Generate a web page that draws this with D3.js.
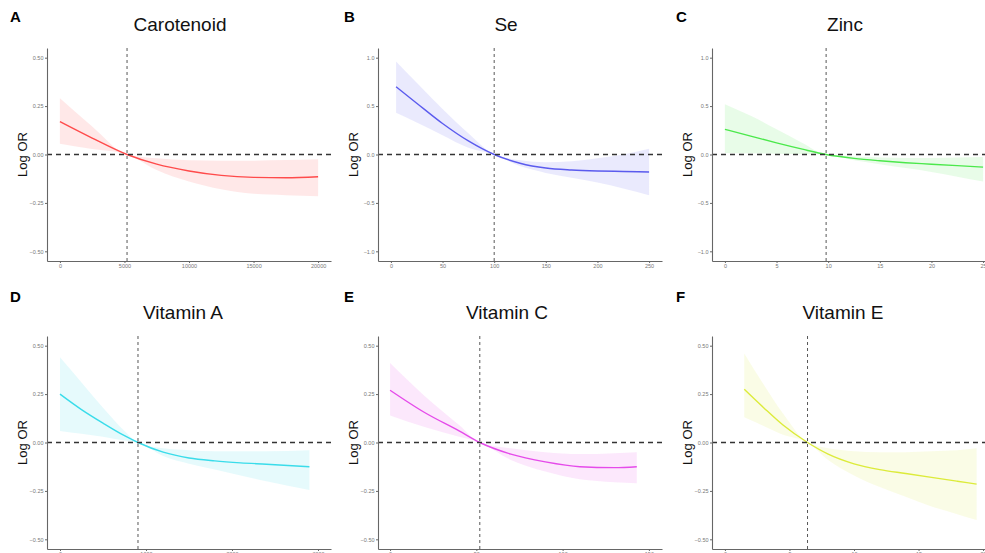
<!DOCTYPE html>
<html>
<head>
<meta charset="utf-8">
<script src="https://cdn.jsdelivr.net/npm/d3@7"></script>
<style>
  body { margin: 0; background: #fff; }
  svg { display: block; font-family: "Liberation Sans", Arial, sans-serif; }
  .tick text { fill: #777; font-size: 5.5px; }
  .tick line, .domain { stroke: #666; }
</style>
</head>
<body>
<div id="chart"></div>
<script>
// ---- data ----
// Carotenoid
const caroX   = [0, 2500, 5200, 7500, 10000, 12500, 15000, 17500, 20000];
const caroFit = [0.17, 0.085, 0, -0.05, -0.085, -0.108, -0.118, -0.12, -0.115];
const caroHi  = [0.29, 0.145, 0, -0.02, -0.03, -0.032, -0.032, -0.029, -0.025];
const caroLo  = [0.055, 0.028, 0, -0.08, -0.14, -0.18, -0.203, -0.21, -0.215];
const caroTicksX = [0, 5000, 10000, 15000, 20000];

// Se
const seX   = [5, 25, 50, 75, 100, 125, 150, 175, 200, 225, 250];
const seFit = [0.70, 0.53, 0.32, 0.14, 0, -0.09, -0.14, -0.16, -0.17, -0.175, -0.18];
const seHi  = [0.96, 0.74, 0.47, 0.22, 0, -0.06, -0.08, -0.07, -0.04, 0.0, 0.06];
const seLo  = [0.43, 0.33, 0.20, 0.07, 0, -0.12, -0.19, -0.24, -0.29, -0.35, -0.42];
const seTicksX = [0, 50, 100, 150, 200, 250];

// Zinc
const znX   = [0, 2.5, 5, 7.5, 9.8, 12.5, 15, 17.5, 20, 22.5, 25];
const znFit = [0.26, 0.19, 0.12, 0.055, 0, -0.04, -0.065, -0.085, -0.10, -0.115, -0.13];
const znHi  = [0.52, 0.40, 0.26, 0.12, 0, -0.02, -0.03, -0.035, -0.035, -0.03, -0.025];
const znLo  = [0.015, 0.012, 0.008, 0.004, 0, -0.06, -0.10, -0.14, -0.18, -0.23, -0.28];
const znTicksX = [0, 5, 10, 15, 20, 25];

// Vitamin A
const vaX   = [0, 250, 500, 750, 907, 1200, 1500, 1800, 2100, 2400, 2900];
const vaFit = [0.25, 0.17, 0.10, 0.035, 0, -0.05, -0.08, -0.095, -0.105, -0.112, -0.125];
const vaHi  = [0.44, 0.31, 0.18, 0.06, 0, -0.03, -0.04, -0.045, -0.045, -0.045, -0.04];
const vaLo  = [0.06, 0.045, 0.03, 0.01, 0, -0.07, -0.11, -0.14, -0.17, -0.20, -0.245];
const vaTicksX = [0, 1000, 2000, 3000];

// Vitamin C
const vcX   = [0, 20, 40, 52, 70, 90, 110, 130, 143];
const vcFit = [0.27, 0.155, 0.06, 0, -0.06, -0.10, -0.125, -0.13, -0.125];
const vcHi  = [0.41, 0.24, 0.09, 0, -0.03, -0.05, -0.06, -0.055, -0.05];
const vcLo  = [0.14, 0.08, 0.03, 0, -0.09, -0.15, -0.19, -0.205, -0.21];
const vcTicksX = [0, 50, 100, 150];

// Vitamin E
const veX   = [1.5, 3, 4.5, 6.4, 8, 10, 12, 14, 16, 18, 19.5];
const veFit = [0.275, 0.18, 0.09, 0, -0.06, -0.11, -0.14, -0.16, -0.18, -0.20, -0.215];
const veHi  = [0.46, 0.30, 0.15, 0, -0.03, -0.045, -0.05, -0.05, -0.045, -0.04, -0.03];
const veLo  = [0.13, 0.085, 0.04, 0, -0.09, -0.17, -0.23, -0.28, -0.33, -0.37, -0.40];
const veTicksX = [0, 5, 10, 15, 20];

const yTicksHalf = [-0.5, -0.25, 0, 0.25, 0.5];
const yTicksOne  = [-1, -0.5, 0, 0.5, 1];

const panels = [
  {tag: "A", title: "Carotenoid", x: caroX, fit: caroFit, hi: caroHi, lo: caroLo, ref: 5200,
   xDom: [-1000, 21000], xTicks: caroTicksX, yLim: 0.5, yTicks: yTicksHalf, yFmt: ".2f",
   color: "#ff4b4b", col: 0, row: 0, titleX: 180},
  {tag: "B", title: "Se", x: seX, fit: seFit, hi: seHi, lo: seLo, ref: 100,
   xDom: [-12.5, 262.5], xTicks: seTicksX, yLim: 1, yTicks: yTicksOne, yFmt: ".1f",
   color: "#5b5bee", col: 1, row: 0, titleX: 506},
  {tag: "C", title: "Zinc", x: znX, fit: znFit, hi: znHi, lo: znLo, ref: 9.8,
   xDom: [-1.25, 26.25], xTicks: znTicksX, yLim: 1, yTicks: yTicksOne, yFmt: ".1f",
   color: "#4be84b", col: 2, row: 0, titleX: 845},
  {tag: "D", title: "Vitamin A", x: vaX, fit: vaFit, hi: vaHi, lo: vaLo, ref: 907,
   xDom: [-151, 3151], xTicks: vaTicksX, yLim: 0.5, yTicks: yTicksHalf, yFmt: ".2f",
   color: "#3adcea", col: 0, row: 1, titleX: 183},
  {tag: "E", title: "Vitamin C", x: vcX, fit: vcFit, hi: vcHi, lo: vcLo, ref: 52,
   xDom: [-7, 157.6], xTicks: vcTicksX, yLim: 0.5, yTicks: yTicksHalf, yFmt: ".2f",
   color: "#e54bea", col: 1, row: 1, titleX: 507},
  {tag: "F", title: "Vitamin E", x: veX, fit: veFit, hi: veHi, lo: veLo, ref: 6.4,
   xDom: [-1, 21], xTicks: veTicksX, yLim: 0.5, yTicks: yTicksHalf, yFmt: ".2f",
   color: "#dceb3a", col: 2, row: 1, titleX: 843}
];

const width = 985, height = 553;
const colLeft = [47, 378, 712];   // y-axis position per column
const rowTop = [48, 336];         // top of plot area per row
const plotW = 284, plotH = 213;
const tagX = [10, 344, 676];

const svg = d3.select("#chart").append("svg")
    .attr("width", width)
    .attr("height", height);

const fmtMinus = f => v => d3.format(f)(v).replace("-", "\u2212");

panels.forEach(p => {
    const x0 = colLeft[p.col], y0 = rowTop[p.row];
    const g = svg.append("g");

    const x = d3.scaleLinear().domain(p.xDom).range([x0, x0 + plotW]);
    const y = d3.scaleLinear().domain([-p.yLim * 1.1, p.yLim * 1.1]).range([y0 + plotH, y0]);

    const pts = p.x.map((v, i) => ({x: v, fit: p.fit[i], hi: p.hi[i], lo: p.lo[i]}));

    // confidence band
    g.append("path")
        .datum(pts)
        .attr("fill", p.color)
        .attr("fill-opacity", 0.13)
        .attr("d", d3.area()
            .curve(d3.curveMonotoneX)
            .x(d => x(d.x))
            .y0(d => y(d.lo))
            .y1(d => y(d.hi)));

    // fitted spline
    g.append("path")
        .datum(pts)
        .attr("fill", "none")
        .attr("stroke", p.color)
        .attr("stroke-width", 1.4)
        .attr("d", d3.line()
            .curve(d3.curveMonotoneX)
            .x(d => x(d.x))
            .y(d => y(d.fit)));

    // reference lines
    g.append("line")
        .attr("x1", x0).attr("x2", x0 + plotW)
        .attr("y1", y(0)).attr("y2", y(0))
        .attr("stroke", "#333")
        .attr("stroke-width", 1.3)
        .attr("stroke-dasharray", "5,4");

    g.append("line")
        .attr("x1", x(p.ref)).attr("x2", x(p.ref))
        .attr("y1", y0).attr("y2", y0 + plotH)
        .attr("stroke", "#444")
        .attr("stroke-width", 0.9)
        .attr("stroke-dasharray", "3,3");

    // axes
    g.append("g")
        .attr("transform", `translate(0,${y0 + plotH})`)
        .call(d3.axisBottom(x).tickValues(p.xTicks).tickFormat(d3.format("d"))
            .tickSize(2).tickPadding(1.5).tickSizeOuter(0))
        .call(a => a.select(".domain").attr("stroke-width", 1.1));

    g.append("g")
        .attr("transform", `translate(${x0},0)`)
        .call(d3.axisLeft(y).tickValues(p.yTicks).tickFormat(fmtMinus(p.yFmt))
            .tickSize(2).tickPadding(1.5).tickSizeOuter(0))
        .call(a => a.select(".domain").attr("stroke-width", 1.1));

    // labels
    g.append("text")
        .attr("transform", `translate(${x0 - 20},${y(0)}) rotate(-90)`)
        .attr("text-anchor", "middle")
        .attr("font-size", 13)
        .attr("fill", "#111")
        .text("Log OR");

    g.append("text")
        .attr("x", p.titleX)
        .attr("y", y0 - 17)
        .attr("text-anchor", "middle")
        .attr("font-size", 19)
        .attr("fill", "#111")
        .text(p.title);

    g.append("text")
        .attr("x", tagX[p.col])
        .attr("y", p.row === 0 ? 22 : 302)
        .attr("font-size", 15)
        .attr("font-weight", "bold")
        .attr("fill", "#000")
        .text(p.tag);
});
</script>
</body>
</html>
